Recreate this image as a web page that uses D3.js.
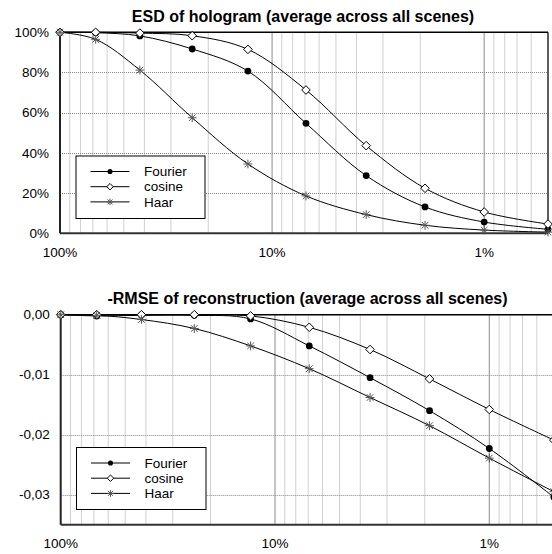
<!DOCTYPE html>
<html>
<head>
<meta charset="utf-8">
<script src="https://cdn.jsdelivr.net/npm/d3@7"></script>
<style>
  body { margin: 0; background: #fff; }
  svg { display: block; font-family: Arial, "Liberation Sans", sans-serif; }
</style>
</head>
<body>
<svg id="chart" width="552" height="554"></svg>
<script>
// compression ratio (x axis, log, reversed)
const ratios = [1, 0.679, 0.42, 0.238, 0.13, 0.0692, 0.036, 0.019, 0.01, 0.005]

// ESD of hologram, %
const fourierESD = [100, 99.8, 98.2, 91.7, 80.7, 54.7, 28.7, 13.1, 5.6, 2.0]
const cosineESD = [100, 100, 99.6, 98.3, 91.5, 71.3, 43.6, 22.4, 10.6, 4.6]
const haarESD = [100, 96.5, 81.2, 57.5, 34.5, 18.6, 9.3, 4.0, 1.6, 0.6]

// -RMSE of reconstruction
const fourierRMSE = [0, -0.0002, -0.0001, -0.0001, -0.0007, -0.0052, -0.0105, -0.0160, -0.0223, -0.0304]
const cosineRMSE = [0, 0, 0, 0, -0.0002, -0.0021, -0.0058, -0.0107, -0.0158, -0.0209]
const haarRMSE = [0, -0.0001, -0.0008, -0.0023, -0.0052, -0.0090, -0.0138, -0.0185, -0.0239, -0.0295]

const seriesNames = ['Fourier', 'cosine', 'Haar']
const xTickValues = [1, 0.1, 0.01]
const esdTicks = [0, 20, 40, 60, 80, 100]
const rmseTicks = [0, -0.01, -0.02, -0.03]

const svg = d3.select('#chart')

// minor grid values: 100%..0.5%
const gridValues = []
for (const dec of [1, 0.1, 0.01]) {
	for (let k = 9; k >= 1; k--) {
		const v = dec * k / 10
		if (v >= 0.005 - 1e-9) gridValues.push(v)
	}
}

// markers (k = scale)
const drawMarker = (g, type, k = 1) => {
	if (type === 'Fourier') {
		g.append('circle').attr('r', 3.4 * k).attr('fill', '#000')
	} else if (type === 'cosine') {
		const s = 4.3 * k
		g.append('path').attr('d', `M0,${-s}L${s},0L0,${s}L${-s},0Z`)
			.attr('fill', '#fff').attr('stroke', '#000').attr('stroke-width', 1)
	} else {
		const s = 4.4 * k
		const t = s * 0.75
		g.append('path')
			.attr('d', `M0,${-s}V${s}M${-t},${-t}L${t},${t}M${-t},${t}L${t},${-t}M${-s},0H${s}`)
			.attr('stroke', '#555').attr('stroke-width', 1).attr('fill', 'none')
	}
}

const drawPanel = (opts) => {
	const { left, right, top, bottom, yDomain, yTicks, yFormat, series, title, titleX, titleY, legend, labelY } = opts
	const x = d3.scaleLog().domain([1, 0.005]).range([left, right])
	const y = d3.scaleLinear().domain(yDomain).range([bottom, top])
	const g = svg.append('g')

	// vertical grid
	g.append('g').selectAll('line')
		.data(gridValues)
		.enter()
		.append('line')
		.attr('x1', d => x(d)).attr('x2', d => x(d))
		.attr('y1', top).attr('y2', bottom)
		.attr('stroke', d => (Math.abs(d - 0.1) < 1e-9 || Math.abs(d - 0.01) < 1e-9) ? '#8a8a8a' : '#d0d0d0')
		.attr('stroke-width', 1)

	// horizontal grid (dotted)
	g.append('g').selectAll('line')
		.data(yTicks.filter(t => t !== yDomain[1]))
		.enter()
		.append('line')
		.attr('x1', left).attr('x2', right)
		.attr('y1', d => Math.round(y(d)) + 0.5).attr('y2', d => Math.round(y(d)) + 0.5)
		.attr('stroke', '#8a8a8a')
		.attr('stroke-dasharray', '1,1')

	// border
	g.append('line').attr('x1', left).attr('x2', right).attr('y1', top).attr('y2', top)
		.attr('stroke', '#000').attr('stroke-width', 1.5)
	g.append('line').attr('x1', right).attr('x2', right).attr('y1', top).attr('y2', bottom)
		.attr('stroke', '#000').attr('stroke-width', 1.2)
	g.append('line').attr('x1', left).attr('x2', right).attr('y1', bottom).attr('y2', bottom)
		.attr('stroke', '#333').attr('stroke-width', 2)
	g.append('line').attr('x1', left).attr('x2', left).attr('y1', top).attr('y2', bottom)
		.attr('stroke', '#222').attr('stroke-width', 2)

	// y labels
	g.append('g').selectAll('text')
		.data(yTicks)
		.enter()
		.append('text')
		.attr('x', left - 11)
		.attr('y', d => y(d))
		.attr('dy', '0.35em')
		.attr('text-anchor', 'end')
		.attr('font-size', 13.5)
		.attr('fill', '#000')
		.text(yFormat)

	// x labels
	g.append('g').selectAll('text')
		.data(xTickValues)
		.enter()
		.append('text')
		.attr('x', d => x(d))
		.attr('y', labelY)
		.attr('dy', '0.35em')
		.attr('text-anchor', 'middle')
		.attr('font-size', 13.5)
		.text(d => d3.format('.0%')(d))

	// title
	g.append('text')
		.attr('x', titleX).attr('y', titleY)
		.attr('text-anchor', 'middle')
		.attr('font-size', 16)
		.attr('font-weight', 'bold')
		.text(title)

	// lines + markers
	const line = d3.line()
		.x((d, i) => x(ratios[i]))
		.y(d => y(d))
		.curve(d3.curveCatmullRom.alpha(0.5))

	series.forEach((s) => {
		g.append('path')
			.attr('d', line(s.values))
			.attr('fill', 'none')
			.attr('stroke', '#000')
			.attr('stroke-width', 1)
	})
	series.forEach((s) => {
		g.append('g').selectAll('g')
			.data(s.values)
			.enter()
			.append('g')
			.attr('transform', (d, i) => `translate(${x(ratios[i])},${y(d)})`)
			.each(function () { drawMarker(d3.select(this), s.name) })
	})

	// legend
	const lg = g.append('g')
	lg.append('rect')
		.attr('x', legend.x + 0.5).attr('y', legend.y + 0.5)
		.attr('width', legend.w).attr('height', legend.h)
		.attr('fill', '#fff').attr('stroke', '#000').attr('stroke-width', 1)
	seriesNames.forEach((name, i) => {
		const ly = legend.y + 16 + i * 15.2
		lg.append('line')
			.attr('x1', legend.x + 15).attr('x2', legend.x + 54)
			.attr('y1', ly).attr('y2', ly)
			.attr('stroke', '#000').attr('stroke-width', 1)
		drawMarker(lg.append('g').attr('transform', `translate(${legend.x + 34.5},${ly})`), name, 0.75)
		lg.append('text')
			.attr('x', legend.x + 68.5).attr('y', ly)
			.attr('dy', '0.35em')
			.attr('font-size', 13.5)
			.text(name)
	})
}

drawPanel({
	left: 60, right: 548, top: 32.3, bottom: 233.3,
	yDomain: [0, 100], yTicks: esdTicks,
	yFormat: d => d + '%',
	series: [
		{ name: 'Fourier', values: fourierESD },
		{ name: 'cosine', values: cosineESD },
		{ name: 'Haar', values: haarESD }
	],
	title: 'ESD of hologram (average across all scenes)',
	titleX: 303, titleY: 22,
	legend: { x: 75.5, y: 155.5, w: 129, h: 62.5 },
	labelY: 252
})

drawPanel({
	left: 60.7, right: 553.8, top: 314.7, bottom: 524.7,
	yDomain: [-0.035, 0], yTicks: rmseTicks,
	yFormat: d => d3.format('.2f')(d).replace('.', ',').replace('−', '-'),
	series: [
		{ name: 'Fourier', values: fourierRMSE },
		{ name: 'cosine', values: cosineRMSE },
		{ name: 'Haar', values: haarRMSE }
	],
	title: '-RMSE of reconstruction (average across all scenes)',
	titleX: 307.5, titleY: 304,
	legend: { x: 76, y: 447, w: 129.5, h: 62 },
	labelY: 543.5
})
</script>
</body>
</html>
